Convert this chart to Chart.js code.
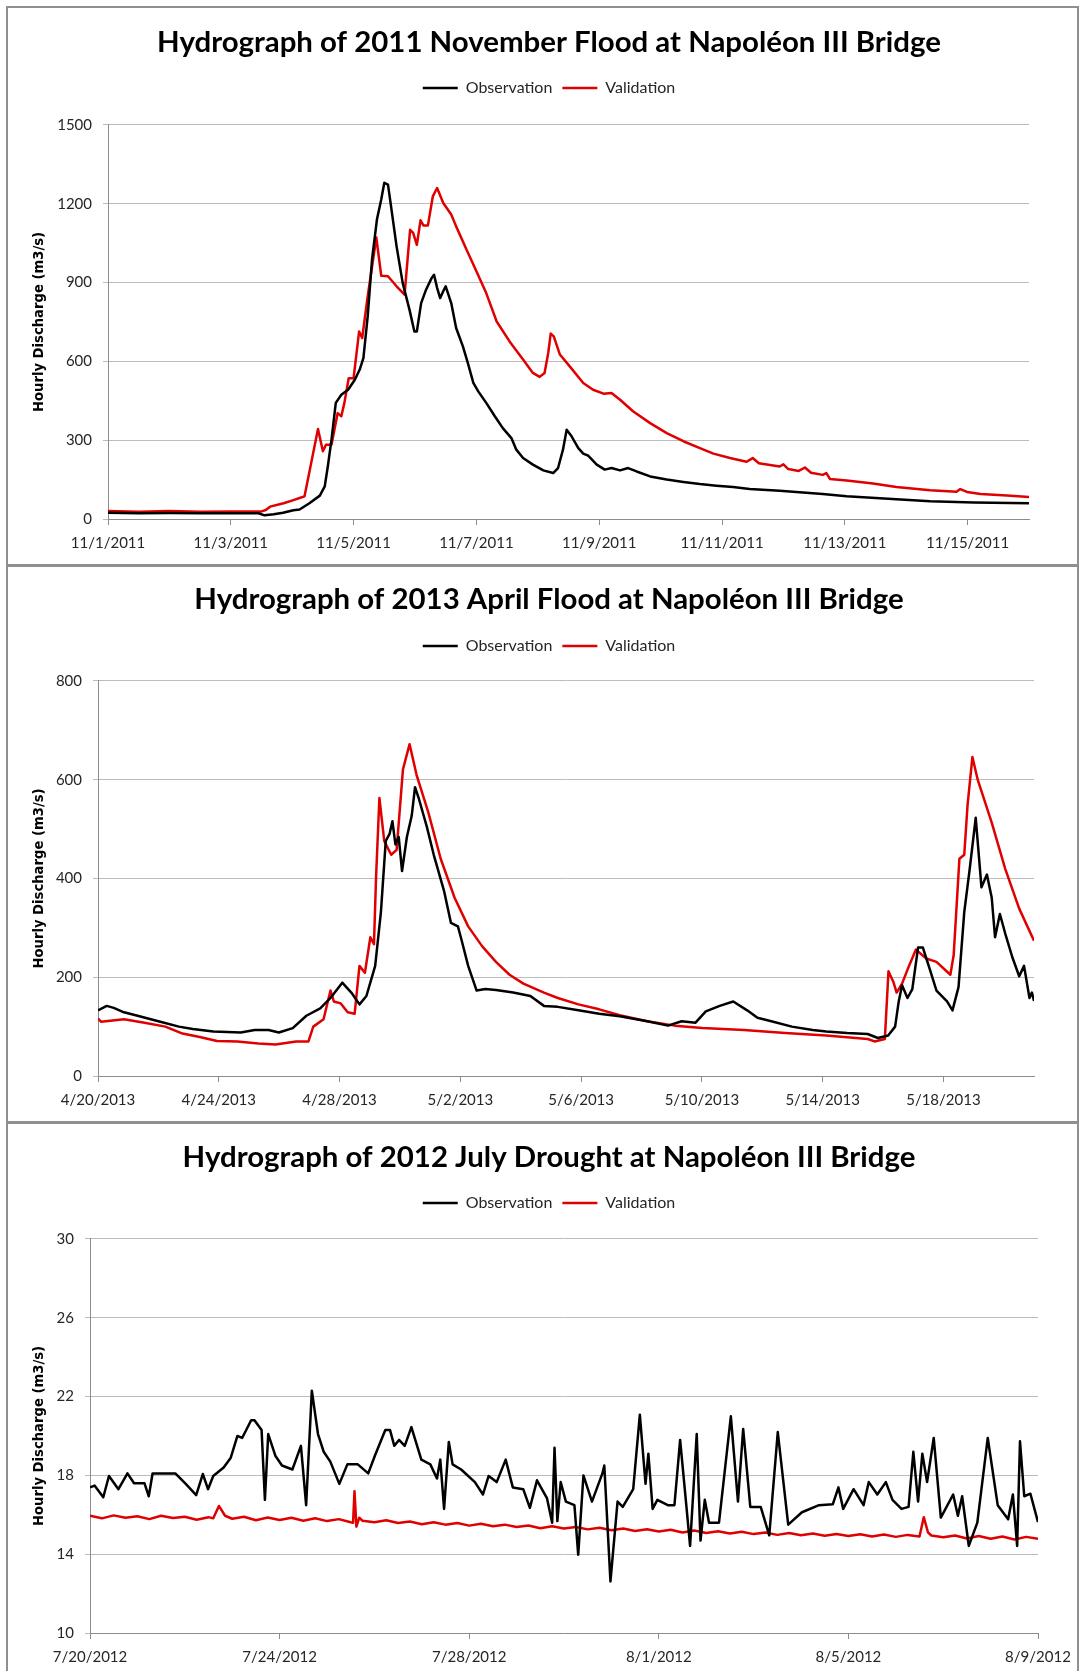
<!DOCTYPE html>
<html><head><meta charset="utf-8">
<script src="https://cdn.jsdelivr.net/npm/chart.js@4.4.0/dist/chart.umd.min.js"></script>
<style>
html,body{margin:0;padding:0;background:#fff;overflow:hidden;width:1079px;height:1671px;position:relative;}
.panel{position:absolute;left:6px;width:1073px;border:2px solid #8f8f8f;box-sizing:border-box;background:transparent;z-index:2;pointer-events:none;}
canvas{position:absolute;left:8px;z-index:1;}
</style></head><body>
<div class="panel" style="top:6px;height:561px"></div>
<div class="panel" style="top:564px;height:560px"></div>
<div class="panel" style="top:1121px;height:600px"></div>
<canvas id="c1" width="1082" height="555" style="top:8px"></canvas>
<canvas id="c2" width="1082" height="555" style="top:566px"></canvas>
<canvas id="c3" width="1082" height="548" style="top:1123px"></canvas>
<script>
// ---------- Panel 1: 2011 November flood (x = days since 11/1/2011) ----------
const nov2011TickDays = [0, 2, 4, 6, 8, 10, 12, 14];
const nov2011TickLabels = ['11/1/2011','11/3/2011','11/5/2011','11/7/2011','11/9/2011','11/11/2011','11/13/2011','11/15/2011'];
const nov2011YTicks = [0, 300, 600, 900, 1200, 1500];
const nov2011ObsDays = [0,0.5,1,1.5,2,2.45,2.55,2.7,2.85,3.02,3.12,3.28,3.45,3.53,3.58,3.64,3.71,3.8,3.91,4.02,4.1,4.16,4.23,4.3,4.38,4.45,4.5,4.56,4.61,4.7,4.8,4.91,4.99,5.03,5.1,5.18,5.27,5.31,5.36,5.41,5.46,5.5,5.59,5.67,5.78,5.86,5.95,6.03,6.16,6.3,6.43,6.57,6.65,6.76,6.92,7.09,7.25,7.33,7.41,7.47,7.55,7.66,7.74,7.82,7.96,8.09,8.2,8.34,8.47,8.61,8.83,9.1,9.37,9.64,9.91,10.18,10.45,10.94,11.64,12.03,12.84,13.39,14.1,15];
const nov2011ObsQ    = [24,22,23,22,22,22,14,18,24,33,36,60,89,124,200,302,442,473,492,530,569,613,772,987,1140,1216,1280,1273,1190,1038,898,797,714,714,822,873,917,930,880,841,867,886,822,727,657,594,518,486,442,391,346,308,264,232,207,185,175,194,264,340,315,270,249,241,207,188,194,185,194,181,162,150,141,133,127,122,114,108,95,87,75,68,63,60];
const nov2011ValDays = [0,0.5,1,1.5,2,2.5,2.57,2.64,2.86,3.02,3.12,3.2,3.42,3.5,3.55,3.64,3.74,3.8,3.85,3.92,4,4.09,4.14,4.23,4.37,4.45,4.56,4.7,4.83,4.92,4.97,5.03,5.09,5.14,5.21,5.29,5.36,5.46,5.59,5.67,5.84,6,6.16,6.33,6.54,6.76,6.92,7.03,7.11,7.17,7.21,7.26,7.36,7.52,7.74,7.9,8.07,8.2,8.34,8.55,8.83,9.1,9.37,9.64,9.86,10.13,10.4,10.5,10.6,10.94,11,11.08,11.25,11.35,11.45,11.64,11.7,11.76,12.03,12.46,12.84,13.39,13.82,13.88,13.99,14.21,14.64,15];
const nov2011ValQ    = [30,28,30,28,29,29,34,47,60,72,80,86,343,258,283,283,403,391,442,536,536,714,689,848,1072,926,924,886,854,1101,1089,1044,1137,1117,1117,1228,1260,1203,1159,1114,1025,943,860,752,676,607,556,541,556,632,706,695,626,581,518,492,477,480,454,410,365,327,296,270,249,232,218,232,212,200,208,190,183,196,176,168,175,152,147,135,122,109,104,114,103,95,89,84];

// ---------- Panel 2: 2013 April flood (x = days since 4/20/2013) ----------
const apr2013TickDays = [0, 4, 8, 12, 16, 20, 24, 28];
const apr2013TickLabels = ['4/20/2013','4/24/2013','4/28/2013','5/2/2013','5/6/2013','5/10/2013','5/14/2013','5/18/2013'];
const apr2013YTicks = [0, 200, 400, 600, 800];
const apr2013ObsDays = [0,0.29,0.52,0.86,1.31,2,2.68,3.14,3.82,4.73,5.19,5.65,5.99,6.45,6.9,7.36,7.7,8.09,8.39,8.66,8.89,9.18,9.37,9.53,9.66,9.75,9.85,9.96,10.07,10.23,10.39,10.5,10.62,10.89,11.12,11.46,11.69,11.92,12.03,12.26,12.54,12.83,13.18,13.75,14.32,14.77,15.23,15.91,16.6,17.28,18.19,18.88,19.33,19.79,20.13,20.59,21.04,21.5,21.84,22.3,22.98,23.67,24.12,24.81,25.49,25.83,26.17,26.4,26.52,26.63,26.81,26.97,27.16,27.32,27.55,27.77,28.12,28.3,28.5,28.69,28.87,29.07,29.26,29.44,29.6,29.71,29.87,30.05,30.28,30.51,30.67,30.85,30.93,31];
const apr2013ObsQ    = [133,142,138,129,122,111,100,95,90,88,93,93,88,97,122,137,158,189,169,145,162,223,332,476,491,516,469,484,415,484,527,585,563,505,448,375,310,303,278,223,173,176,174,169,162,142,140,133,126,121,111,102,111,108,131,142,151,133,118,111,100,93,90,87,85,77,82,100,151,184,158,176,260,260,216,173,151,133,180,332,419,523,382,408,361,281,328,288,241,202,223,158,169,152];
const apr2013ValDays = [0,0.1,0.86,1.54,2.23,2.8,3.37,3.94,4.62,5.31,5.88,6.56,6.97,7.13,7.47,7.7,7.81,8.04,8.27,8.5,8.66,8.84,9.02,9.14,9.21,9.32,9.48,9.71,9.89,10.1,10.32,10.55,10.94,11.35,11.81,12.26,12.72,13.18,13.63,14.09,14.77,15.23,15.91,16.6,17.28,18.19,19.1,20.02,21.39,22.76,24.12,25.49,25.72,26.06,26.18,26.34,26.45,26.63,26.86,27.09,27.43,27.77,28.23,28.34,28.53,28.69,28.8,28.96,29.14,29.6,30.05,30.51,31];
const apr2013ValQ    = [116,110,115,108,100,86,79,71,70,66,64,70,70,100,115,173,151,147,129,126,223,209,281,267,404,563,476,448,458,621,672,610,534,440,361,303,263,231,205,187,169,158,145,135,123,111,102,97,93,87,82,75,70,75,212,191,169,187,223,256,238,231,205,245,440,448,549,646,599,513,419,339,274];

// ---------- Panel 3: 2012 July drought (x = days since 7/20/2012) ----------
const jul2012TickDays = [0, 4, 8, 12, 16, 20];
const jul2012TickLabels = ['7/20/2012','7/24/2012','7/28/2012','8/1/2012','8/5/2012','8/9/2012'];
const jul2012YTicks = [10, 14, 18, 22, 26, 30];
const jul2012ObsDays = [0,0.1,0.28,0.4,0.6,0.79,0.93,1.15,1.24,1.32,1.8,2.02,2.24,2.38,2.49,2.6,2.82,2.97,3.11,3.21,3.4,3.47,3.62,3.69,3.76,3.91,4.05,4.27,4.45,4.56,4.68,4.81,4.93,5.07,5.26,5.43,5.65,5.87,6.01,6.23,6.33,6.42,6.52,6.64,6.78,6.99,7.18,7.32,7.39,7.47,7.57,7.65,7.83,8.12,8.29,8.41,8.58,8.77,8.92,9.14,9.28,9.43,9.64,9.75,9.8,9.86,9.93,10.04,10.22,10.3,10.41,10.59,10.81,10.85,10.98,11.13,11.24,11.46,11.6,11.72,11.78,11.87,11.97,12.19,12.33,12.45,12.58,12.66,12.8,12.88,12.97,13.06,13.27,13.52,13.67,13.78,13.93,14.15,14.33,14.51,14.73,15.02,15.38,15.67,15.79,15.89,16.11,16.32,16.43,16.61,16.79,16.93,17.12,17.27,17.37,17.47,17.56,17.66,17.8,17.95,18.21,18.31,18.4,18.54,18.72,18.94,19.15,19.37,19.47,19.56,19.62,19.71,19.84,20];
const jul2012ObsQ    = [17.39,17.48,16.89,17.97,17.3,18.1,17.6,17.6,16.94,18.1,18.1,17.57,17.0,18.07,17.3,17.97,18.4,18.9,20.0,19.9,20.8,20.8,20.3,16.76,20.1,19.0,18.5,18.3,19.5,16.49,22.3,20.1,19.2,18.7,17.57,18.56,18.56,18.1,19.0,20.3,20.3,19.5,19.8,19.5,20.45,18.8,18.56,17.84,18.8,16.3,19.7,18.56,18.3,17.66,17.03,17.97,17.66,18.8,17.39,17.3,16.35,17.75,16.85,15.6,19.4,15.68,17.66,16.67,16.49,13.97,18.0,16.67,18.1,18.5,12.62,16.67,16.4,17.3,21.08,17.57,19.1,16.3,16.76,16.49,16.49,19.8,16.49,14.42,20.1,14.69,16.76,15.6,15.6,21.0,16.67,20.36,16.4,16.4,14.96,20.2,15.5,16.13,16.49,16.53,17.39,16.3,17.3,16.49,17.66,17.03,17.66,16.76,16.3,16.4,19.2,16.67,19.1,17.66,19.9,15.86,17.03,15.95,16.94,14.42,15.6,19.9,16.49,15.77,17.03,14.42,19.73,16.94,17.07,15.63];
const jul2012ValDays = [0,0.25,0.5,0.75,1,1.25,1.5,1.75,2,2.25,2.5,2.6,2.72,2.85,3,3.25,3.5,3.75,4,4.25,4.5,4.75,5,5.25,5.5,5.55,5.58,5.62,5.68,5.75,6,6.25,6.5,6.75,7,7.25,7.5,7.75,8,8.25,8.5,8.75,9,9.25,9.5,9.75,10,10.25,10.5,10.75,11,11.25,11.5,11.75,12,12.25,12.5,12.75,13,13.25,13.5,13.75,14,14.25,14.5,14.75,15,15.25,15.5,15.75,16,16.25,16.5,16.75,17,17.25,17.5,17.59,17.68,17.75,18,18.25,18.5,18.75,19,19.25,19.5,19.75,20];
const jul2012ValQ    = [15.95,15.82,15.97,15.85,15.93,15.78,15.95,15.84,15.9,15.75,15.88,15.82,16.45,15.95,15.8,15.9,15.72,15.86,15.74,15.85,15.7,15.82,15.68,15.78,15.62,15.6,17.2,15.4,15.85,15.7,15.62,15.72,15.58,15.66,15.52,15.62,15.5,15.58,15.45,15.55,15.42,15.5,15.38,15.46,15.32,15.42,15.3,15.38,15.26,15.34,15.22,15.3,15.18,15.27,15.15,15.24,15.1,15.2,15.08,15.16,15.05,15.14,15.02,15.1,14.98,15.08,14.96,15.05,14.94,15.03,14.92,15.01,14.9,15.0,14.88,14.98,14.9,15.88,15.1,14.95,14.86,14.95,14.8,14.92,14.78,14.9,14.75,14.88,14.78];

const OBS_COLOR = '#000000';
const VAL_COLOR = '#e00000';
const TEXT_COLOR = '#262626';

function pts(days, vals) { return days.map((d, i) => ({x: d, y: vals[i]})); }

function makeChart(id, c) {
  return new Chart(document.getElementById(id), {
    type: 'line',
    data: { datasets: [
      {label: 'Observation', data: pts(c.obsDays, c.obsQ), borderColor: OBS_COLOR, backgroundColor: OBS_COLOR,
       borderWidth: 2.5, pointRadius: 0, tension: 0, fill: false, xAxisID: 'x', yAxisID: 'y', borderJoinStyle: 'round'},
      {label: 'Validation', data: pts(c.valDays, c.valQ), borderColor: VAL_COLOR, backgroundColor: VAL_COLOR,
       borderWidth: 2.5, pointRadius: 0, tension: 0, fill: false, xAxisID: 'x', yAxisID: 'y', borderJoinStyle: 'round'}
    ]},
    options: {
      responsive: false, animation: false, parsing: false,
      layout: {padding: 0},
      plugins: {
        title: {display: true, text: c.title, color: '#000',
                font: {family: 'Lato', size: 29.4, weight: 'bold'},
                padding: {top: c.titleTop, bottom: c.titleBottom}},
        legend: {display: true, position: 'top',
                 labels: {usePointStyle: true, pointStyle: 'line', pointStyleWidth: 35, padding: 10,
                          color: TEXT_COLOR, font: {family: 'Lato', size: 16}}},
        tooltip: {enabled: false}
      },
      scales: {
        x: {type: 'linear', position: 'bottom', min: 0, max: c.xMax,
            afterBuildTicks: s => { s.ticks = c.tickDays.map(v => ({value: v})); },
            ticks: {autoSkip: false, maxRotation: 0, padding: 9, color: TEXT_COLOR,
                    font: {family: 'Lato', size: 15},
                    callback: (v) => c.tickLabels[c.tickDays.indexOf(v)]},
            grid: {drawOnChartArea: false, drawTicks: true, tickLength: 6, color: '#8c8c8c'},
            border: {color: '#8c8c8c', width: 1},
            afterFit: s => { s.height = c.xH; }},
        gap: {type: 'linear', axis: 'x', position: 'top', min: 0, max: 1, display: true,
              grid: {display: false}, border: {display: false}, ticks: {display: false},
              afterFit: s => { s.height = c.gap; }},
        y: {type: 'linear', position: 'left', min: c.yTicks[0], max: c.yTicks[c.yTicks.length - 1],
            afterBuildTicks: s => { s.ticks = c.yTicks.map(v => ({value: v})); },
            ticks: {padding: 11, color: TEXT_COLOR, font: {family: 'Lato', size: 15},
                    callback: v => String(v)},
            grid: {color: '#bcbcbc', lineWidth: 1, tickLength: 5},
            border: {color: '#8c8c8c', width: 1},
            title: {display: true, text: 'Hourly Discharge (m3/s)', color: '#000',
                    font: {family: 'DejaVu Sans', size: 13.2, weight: 'bold'},
                    padding: {top: c.yTitlePad, bottom: 0}},
            afterFit: s => { s.width = c.yW; }},
        rgap: {type: 'linear', axis: 'y', position: 'right', min: 0, max: 1, display: true,
               grid: {display: false}, border: {display: false}, ticks: {display: false},
               afterFit: s => { s.width = c.padRight; }}
      }
    }
  });
}

makeChart('c1', {title: 'Hydrograph of 2011 November Flood at Napoléon III Bridge',
  obsDays: nov2011ObsDays, obsQ: nov2011ObsQ, valDays: nov2011ValDays, valQ: nov2011ValQ,
  tickDays: nov2011TickDays, tickLabels: nov2011TickLabels, yTicks: nov2011YTicks, xMax: 15,
  titleTop: 16.4, titleBottom: 10.3, gap: 19, xH: 44, yW: 100, padRight: 61, yTitlePad: 24});
makeChart('c2', {title: 'Hydrograph of 2013 April Flood at Napoléon III Bridge',
  obsDays: apr2013ObsDays, obsQ: apr2013ObsQ, valDays: apr2013ValDays, valQ: apr2013ValQ,
  tickDays: apr2013TickDays, tickLabels: apr2013TickLabels, yTicks: apr2013YTicks, xMax: 31,
  titleTop: 15.4, titleBottom: 11.3, gap: 17, xH: 45, yW: 90, padRight: 56, yTitlePad: 23.6});
makeChart('c3', {title: 'Hydrograph of 2012 July Drought at Napoléon III Bridge',
  obsDays: jul2012ObsDays, obsQ: jul2012ObsQ, valDays: jul2012ValDays, valQ: jul2012ValQ,
  tickDays: jul2012TickDays, tickLabels: jul2012TickLabels, yTicks: jul2012YTicks, xMax: 20,
  titleTop: 16.4, titleBottom: 10.3, gap: 18, xH: 38, yW: 82, padRight: 52, yTitlePad: 23.6});
</script>
</body></html>
